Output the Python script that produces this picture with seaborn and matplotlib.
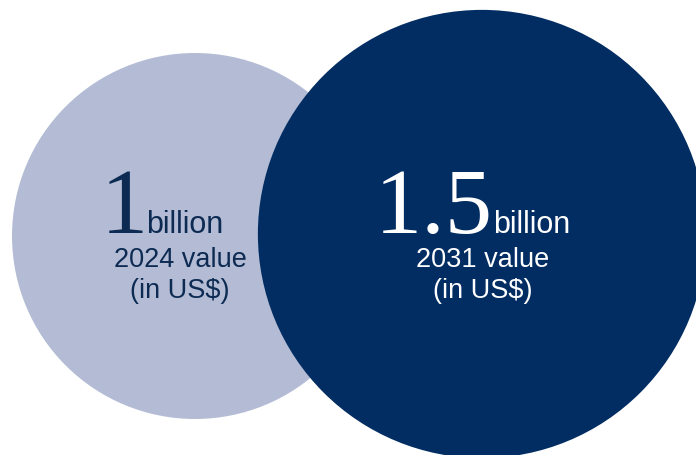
import matplotlib
matplotlib.use("Agg")
import matplotlib.pyplot as plt
import numpy as np
import pandas as pd
import seaborn as sns

# Market value, in US$ billion
years = ["2024", "2031"]
values_bn = [1.0, 1.5]
value_labels = ["1", "1.5"]
unit_labels = ["billion", "billion"]
caption_lines = [["2024 value", "(in US$)"], ["2031 value", "(in US$)"]]

circle_colors = ["#b3bcd4", "#022d63"]
text_colors = ["#0c2a52", "#ffffff"]

W, H, DPI = 696, 455, 100
sns.set_theme(style="white")

fig = plt.figure(figsize=(W / DPI, H / DPI), dpi=DPI)
ax = fig.add_axes([0, 0, 1, 1])
ax.set_xlim(0, W)
ax.set_ylim(H, 0)

# circle area proportional to value; a 1-billion circle has radius 183 units
base_radius = 183.0
radii = base_radius * np.sqrt(np.array(values_bn))
centers_x = [195, 482]
centers_y = [236, 234]

df = pd.DataFrame({"x": centers_x, "y": centers_y, "year": years, "value": values_bn})
# scatter marker size is area in pt^2 of a circle whose diameter is sqrt(s) pt
marker_area = {yr: (2 * r * 72 / DPI) ** 2 for yr, r in zip(years, radii)}
sns.scatterplot(
    data=df, x="x", y="y", hue="year", size="year",
    palette=dict(zip(years, circle_colors)), sizes=marker_area,
    linewidth=0, edgecolor="none", alpha=1, legend=False, ax=ax,
)
ax.set_axis_off()

serif = ["Liberation Serif", "DejaVu Serif"]
sans = ["Liberation Sans", "DejaVu Sans"]

number_right = [148, 493]
unit_left = [146, 493]
caption_center = [180, 483]
baseline = 233
caption_baselines = [267, 298]

for i in range(len(years)):
    ax.text(number_right[i], baseline, value_labels[i], ha="right", va="baseline",
            fontsize=68, family=serif, color=text_colors[i])
    ax.text(unit_left[i], baseline, unit_labels[i], ha="left", va="baseline",
            fontsize=22, family=sans, color=text_colors[i])
    for line, yb in zip(caption_lines[i], caption_baselines):
        ax.text(caption_center[i], yb, line, ha="center", va="baseline",
                fontsize=19.5, family=sans, color=text_colors[i])

fig.savefig("out.png", dpi=DPI, facecolor="white")
